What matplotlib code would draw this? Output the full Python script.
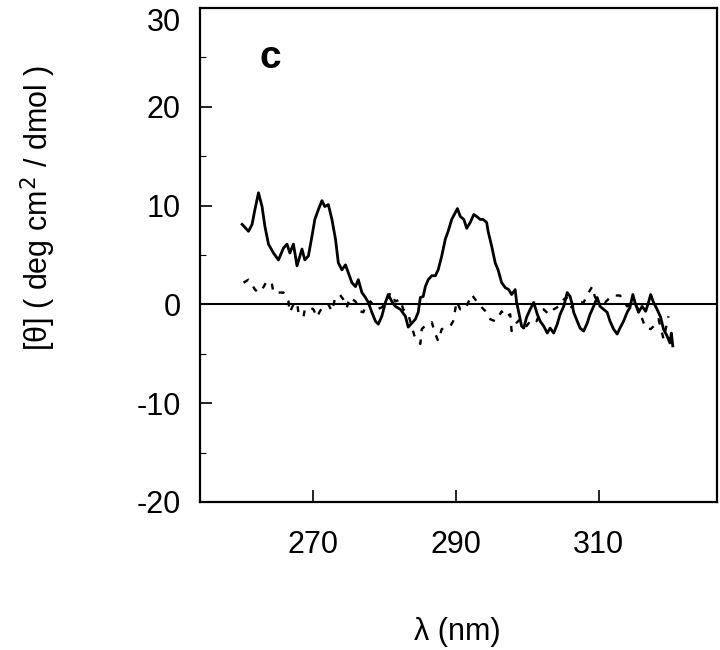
import matplotlib
matplotlib.use('Agg')
import matplotlib.pyplot as plt
from matplotlib.ticker import MultipleLocator

plt.rcParams['font.family'] = ['Liberation Sans', 'DejaVu Sans']
plt.rcParams['axes.unicode_minus'] = False

# solid trace
wl_solid = [260.0, 260.4, 260.9, 261.4, 261.8, 262.3, 262.8, 263.2, 263.7, 264.4,
            265.1, 265.8, 266.3, 266.7, 267.2, 267.7, 268.4, 268.8, 269.3, 269.8,
            270.2, 270.7, 271.2, 271.6, 272.1, 272.6, 273.1, 273.5, 274.0, 274.5,
            274.9, 275.4, 275.9, 276.3, 276.8, 277.3, 277.7, 278.2, 278.7, 279.1,
            279.6, 280.1, 280.5, 281.0, 281.5, 282.2, 282.9, 283.3, 283.8, 284.3,
            284.7, 285.0, 285.4, 285.7, 286.1, 286.6, 287.1, 287.5, 288.0, 288.5,
            288.9, 289.4, 289.9, 290.2, 290.6, 291.1, 291.5, 292.0, 292.5, 292.9,
            293.4, 293.8, 294.3, 294.5, 295.0, 295.5, 295.9, 296.4, 296.9, 297.4,
            297.8, 298.3, 298.5, 298.8, 299.2, 299.5, 299.9, 300.4, 300.9, 301.4,
            301.8, 302.3, 302.8, 303.2, 303.7, 304.2, 304.6, 305.1, 305.6, 306.0,
            306.3, 306.5, 307.0, 307.4, 307.9, 308.4, 308.8, 309.3, 309.8, 310.2,
            310.7, 311.2, 311.6, 312.1, 312.6, 313.0, 313.5, 314.0, 314.4, 314.8,
            315.1, 315.6, 316.1, 316.6, 317.0, 317.3, 317.7, 318.2, 318.7, 319.1,
            319.6, 320.0, 320.2, 320.4]
cd_solid = [8.1, 7.8, 7.4, 8.1, 9.6, 11.3, 9.9, 7.9, 6.1, 5.2,
            4.5, 5.7, 6.1, 5.2, 6.1, 3.9, 5.6, 4.5, 4.9, 6.9,
            8.6, 9.6, 10.5, 9.9, 10.1, 8.6, 6.6, 4.2, 3.5, 4.0,
            3.2, 2.2, 1.8, 2.5, 1.2, 0.7, 0.2, -0.8, -1.7, -2.0,
            -1.2, 0.2, 1.0, 0.3, -0.2, -0.5, -1.2, -2.3, -1.9, -1.5,
            -0.8, 0.7, 0.8, 1.8, 2.5, 2.9, 2.9, 3.5, 4.9, 6.6,
            7.4, 8.6, 9.3, 9.7, 8.9, 8.6, 7.7, 8.3, 9.1, 8.9,
            8.6, 8.6, 8.3, 7.4, 5.9, 4.2, 3.5, 2.2, 1.7, 1.5,
            1.0, 1.5, 0.2, -0.8, -2.2, -2.4, -1.3, -0.5, 0.2, -1.0,
            -1.7, -2.2, -2.9, -2.4, -2.9, -2.0, -1.0, -0.2, 1.2, 0.8,
            0.0, -0.8, -1.7, -2.4, -2.7, -1.9, -1.0, -0.2, 0.7, -0.2,
            -0.5, -0.8, -1.7, -2.5, -3.0, -2.4, -1.7, -0.8, -0.3, 1.0,
            0.2, -0.8, -0.2, -0.7, 0.2, 1.0, 0.2, -0.5, -1.3, -2.5,
            -3.2, -3.9, -2.9, -4.2]

# dashed trace
wl_dash = [260.2, 260.9, 261.4, 261.8, 262.3, 262.8, 263.5, 264.2, 264.4, 265.1,
           265.8, 266.5, 266.7, 267.2, 267.7, 267.9, 268.6, 268.8, 269.5, 270.0,
           270.5, 270.9, 271.4, 272.1, 272.6, 273.0, 273.7, 274.2, 274.7, 275.1,
           275.9, 276.6, 277.0, 277.3, 278.0, 278.9, 279.6, 280.3, 280.8, 281.5,
           282.2, 282.6, 283.3, 284.3, 285.0, 285.2, 285.9, 286.6, 287.1, 287.5,
           288.0, 288.7, 289.2, 289.6, 290.1, 290.6, 291.3, 292.2, 292.9, 293.6,
           294.3, 294.8, 295.5, 296.0, 296.4, 296.9, 297.6, 297.8, 298.3, 299.0,
           299.9, 300.6, 301.3, 301.8, 302.3, 303.0, 303.7, 304.4, 305.1, 305.5,
           306.2, 306.7, 307.4, 307.9, 308.6, 309.1, 309.5, 310.2, 310.9, 311.9,
           312.6, 313.0, 314.0, 314.9, 315.6, 316.6, 317.3, 318.0, 318.4, 318.9,
           319.1, 319.8]
cd_dash = [2.2, 2.5, 2.0, 1.5, 1.2, 1.5, 2.4, 2.0, 1.2, 1.2,
           1.2, 0.3, -0.8, 0.0, 0.2, -0.8, -1.3, -0.5, -0.3, -0.5,
           -1.3, -0.7, -0.2, 0.0, -0.7, 0.5, 1.0, 0.5, -0.3, 0.7,
           0.3, -0.7, -0.8, -0.2, 0.3, -0.5, -0.3, 0.3, 1.2, 0.3,
           0.5, -0.5, -1.0, -3.5, -4.0, -2.5, -2.0, -1.8, -3.0, -3.7,
           -2.5, -2.4, -2.2, -1.7, 0.3, -0.5, -0.5, 1.0, 0.3, -0.3,
           -0.8, -1.5, -1.7, -1.2, -0.7, -1.3, -1.0, -2.7, -2.0, -1.5,
           -2.2, -1.5, -1.7, -0.8, -0.5, -1.0, -0.5, -0.2, 0.5, 0.7,
           -0.3, 0.3, 0.2, 0.2, 1.2, 1.8, 0.7, 0.5, 0.2, 0.9,
           0.9, 0.9, -0.2, 0.2, -0.5, -2.4, -2.5, -2.0, -1.5, -2.9,
           -3.5, -1.2]

fig = plt.figure(figsize=(7.2, 6.5), dpi=100)
ax = fig.add_axes([0.2778, 0.2277, 0.718, 0.760])

ax.axhline(0, color='black', linewidth=1.5, zorder=1)
ax.plot(wl_solid, cd_solid, color='black', linewidth=2.0, zorder=3)
ax.plot(wl_dash, cd_dash, color='black', linewidth=1.7,
        dashes=(2.5, 3.5), zorder=2)

ax.text(263.9, 24.9, 'c', fontsize=28, fontweight='bold',
        ha='center', va='center')

ax.set_xlim(254.1, 326.6)
ax.set_ylim(-20, 30)
ax.set_xticks([270, 290, 310])
ax.yaxis.set_major_locator(MultipleLocator(10))
ax.yaxis.set_minor_locator(MultipleLocator(5))

for sp in ax.spines.values():
    sp.set_linewidth(1.6)

ax.tick_params(axis='both', which='major', direction='in', length=8.5,
               width=1.2, labelsize=22)
ax.tick_params(axis='y', which='major', pad=14)
ax.tick_params(axis='x', which='major', pad=20)
ax.tick_params(axis='y', which='minor', direction='in', length=4, width=0.8)

# the top label sits just below its tick in the reference
fig.canvas.draw()
for lab in ax.get_yticklabels():
    if lab.get_text() == '30':
        lab.set_va('top')

fig.text(0.635, 0.027, 'λ (nm)', fontsize=22, ha='center', va='center')
fig.text(0.053, 0.68, '[θ] ( deg cm$^2$ / dmol )', fontsize=22,
         rotation=90, ha='center', va='center')

fig.savefig('out.png', dpi=100)
